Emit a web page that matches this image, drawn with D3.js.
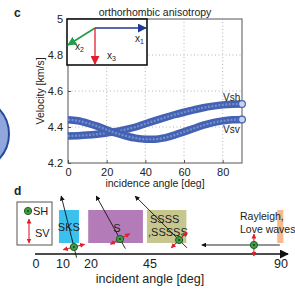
<!DOCTYPE html>
<html>
<head>
<meta charset="utf-8">
<script src="https://cdn.jsdelivr.net/npm/d3@7/dist/d3.min.js"></script>
<style>
  body { margin: 0; background: #fff; }
  text { font-family: "Liberation Sans", Arial, sans-serif; fill: #222; }
</style>
</head>
<body>
<svg id="fig" width="295" height="289"></svg>
<script>
// ---- panel c data ----
const angles = [0, 5, 10, 15, 20, 25, 30, 35, 40, 45, 50, 55, 60, 65, 70, 75, 80, 85, 90];
const vsh = [4.350, 4.352, 4.355, 4.360, 4.367, 4.375, 4.387, 4.400, 4.418, 4.435, 4.452, 4.468, 4.482, 4.495, 4.507, 4.516, 4.523, 4.527, 4.528];
const vsv = [4.440, 4.435, 4.422, 4.405, 4.385, 4.365, 4.350, 4.338, 4.332, 4.332, 4.340, 4.355, 4.373, 4.392, 4.410, 4.424, 4.434, 4.440, 4.442];
const yTicks = [4.2, 4.4, 4.6, 4.8, 5];
const xTicks = [0, 20, 40, 60, 80];

// ---- panel d data ----
const dTicks = [0, 10, 20, 45, 90];
const phaseNames = ["SKS", "S", "SSSS,SSSSS", "surface"];
const phaseFrom = [8.5, 19, 43.7, 88.7];
const phaseTo = [15.7, 42, 57.5, 90.8];
const rayIncidence = [14, 29, 45];   // deg from vertical
const rayAt = [13.9, 32.3, 55];      // where the marker sits on the angle axis
const surfaceAt = 80.7;
const surfaceFrom = 89.6, surfaceTo = 62.8;

const svg = d3.select("#fig");
const defs = svg.append("defs");

function arrowMarker(id, color, size) {
  defs.append("marker")
    .attr("id", id)
    .attr("viewBox", "0 0 10 10")
    .attr("refX", 9).attr("refY", 5)
    .attr("markerWidth", size).attr("markerHeight", size)
    .attr("markerUnits", "userSpaceOnUse")
    .attr("orient", "auto-start-reverse")
    .append("path")
    .attr("d", "M0,0 L10,5 L0,10 z")
    .attr("fill", color);
}
arrowMarker("aBlue", "#1f3a93", 9);
arrowMarker("aGreen", "#1e9e48", 9);
arrowMarker("aRed", "#e3202a", 9);
arrowMarker("aBlack", "#111", 5);
arrowMarker("aRedS", "#e3202a", 5);
arrowMarker("aAxis", "#111", 9);

// left edge circle (part of a neighbouring panel)
svg.append("circle")
  .attr("cx", -27.5).attr("cy", 134).attr("r", 36.5)
  .attr("fill", "#8fa7dd").attr("stroke", "#27489a").attr("stroke-width", 2);

// ================= panel c =================
const x = d3.scaleLinear().domain([0, 90]).range([68, 242]);
const y = d3.scaleLinear().domain([4.2, 5]).range([163, 19]);

svg.append("text").attr("x", 14).attr("y", 17)
  .attr("font-size", 12).attr("font-weight", "bold").text("c");

// grid
const grid = svg.append("g").attr("stroke", "#b5b5b5").attr("stroke-dasharray", "1,2.5");
grid.selectAll("line.gx").data(xTicks.filter(d => d > 0)).enter().append("line")
  .attr("x1", d => x(d)).attr("x2", d => x(d)).attr("y1", y(4.2)).attr("y2", y(5));
grid.selectAll("line.gy").data(yTicks.filter(d => d > 4.2 && d < 5)).enter().append("line")
  .attr("y1", d => y(d)).attr("y2", d => y(d)).attr("x1", x(0)).attr("x2", x(90));

// axes
svg.append("g")
  .attr("transform", `translate(0,${y(4.2)})`)
  .call(d3.axisBottom(x).tickValues(xTicks).tickSize(-3).tickPadding(5).tickFormat(d3.format("d")))
  .call(g => g.select(".domain").remove())
  .call(g => g.selectAll("text").attr("font-size", 11).attr("fill", "#222"));

svg.append("g")
  .attr("transform", `translate(${x(0)},0)`)
  .call(d3.axisLeft(y).tickValues(yTicks).tickSize(-3).tickPadding(5).tickFormat(d => d === 5 ? "5" : d3.format(".1f")(d)))
  .call(g => g.select(".domain").remove())
  .call(g => g.selectAll("text").attr("font-size", 11).attr("fill", "#222"));

svg.selectAll(".tick line").attr("stroke", "#555");

svg.append("rect")
  .attr("x", x(0)).attr("y", y(5))
  .attr("width", x(90) - x(0)).attr("height", y(4.2) - y(5))
  .attr("fill", "none").attr("stroke", "#555").attr("stroke-width", 1);

// curves
const line = d3.line().x(d => x(d[0])).y(d => y(d[1])).curve(d3.curveMonotoneX);
[vsh, vsv].forEach(vals => {
  const pts = angles.map((a, i) => [a, vals[i]]);
  svg.append("path").attr("d", line(pts))
    .attr("fill", "none").attr("stroke", "#4462b4").attr("stroke-width", 7.5);
  svg.append("path").attr("d", line(pts))
    .attr("fill", "none").attr("stroke", "#8c9fd6").attr("stroke-width", 2.2)
    .attr("stroke-dasharray", "2,1.5").attr("opacity", 0.7);
  svg.append("circle")
    .attr("cx", x(angles[angles.length - 1])).attr("cy", y(vals[vals.length - 1])).attr("r", 3.4)
    .attr("fill", "#c9d3ee").attr("stroke", "#4462b4").attr("stroke-width", 1.2);
});

svg.append("text").attr("x", 223).attr("y", 101).attr("font-size", 10).text("Vsh");
svg.append("text").attr("x", 223).attr("y", 133).attr("font-size", 10).text("Vsv");

svg.append("text").attr("x", 155).attr("y", 16).attr("text-anchor", "middle")
  .attr("font-size", 10.5).text("orthorhombic anisotropy");
svg.append("text").attr("x", 155).attr("y", 187).attr("text-anchor", "middle")
  .attr("font-size", 10.5).text("incidence angle [deg]");
svg.append("text")
  .attr("transform", `translate(44,${(y(4.2) + y(5)) / 2}) rotate(-90)`)
  .attr("text-anchor", "middle").attr("font-size", 10.5).text("Velocity [km/s]");

// inset with coordinate axes
const inset = svg.append("g").attr("transform", "translate(67,19)");
inset.append("rect").attr("width", 80).attr("height", 46)
  .attr("fill", "#fff").attr("stroke", "#111").attr("stroke-width", 1.6);
inset.append("line").attr("x1", 28).attr("y1", 9).attr("x2", 79).attr("y2", 9)
  .attr("stroke", "#1f3a93").attr("stroke-width", 1.3).attr("marker-end", "url(#aBlue)");
inset.append("line").attr("x1", 28).attr("y1", 9).attr("x2", 1).attr("y2", 26)
  .attr("stroke", "#1e9e48").attr("stroke-width", 1.6).attr("marker-end", "url(#aGreen)");
inset.append("line").attr("x1", 28).attr("y1", 9).attr("x2", 28).attr("y2", 45)
  .attr("stroke", "#e3202a").attr("stroke-width", 1.3).attr("marker-end", "url(#aRed)");
function axLabel(tx, ty, sub) {
  const t = inset.append("text").attr("x", tx).attr("y", ty).attr("font-size", 10);
  t.append("tspan").text("x");
  t.append("tspan").attr("font-size", 7).attr("dy", 2).text(sub);
}
axLabel(68, 23, "1");
axLabel(8, 31, "2");
axLabel(40, 40, "3");

// ================= panel d =================
const axisY = 254;
const xd = d3.scaleLinear().domain(dTicks).range([36, 63, 91, 150, 281]);

svg.append("text").attr("x", 14).attr("y", 195)
  .attr("font-size", 12).attr("font-weight", "bold").text("d");

const phaseColors = ["#3bc1ee", "#b47bb9", "#c8c68f", "#f7b98f"];
svg.selectAll("rect.phase").data(phaseNames).enter().append("rect")
  .attr("class", "phase")
  .attr("x", (d, i) => xd(phaseFrom[i]))
  .attr("width", (d, i) => xd(phaseTo[i]) - xd(phaseFrom[i]))
  .attr("y", 210).attr("height", 33)
  .attr("fill", (d, i) => phaseColors[i]);

svg.append("text").attr("x", xd((phaseFrom[0] + phaseTo[0]) / 2)).attr("y", 231)
  .attr("text-anchor", "middle").attr("font-size", 11).text("SKS");
svg.append("text").attr("x", 117).attr("y", 232)
  .attr("text-anchor", "middle").attr("font-size", 11).text("S");
svg.append("text").attr("x", 150).attr("y", 223).attr("font-size", 11).text("SSSS");
svg.append("text").attr("x", 148).attr("y", 236).attr("font-size", 11).text(",SSSSS");

// axis line
svg.append("line").attr("x1", 35).attr("x2", 288).attr("y1", axisY).attr("y2", axisY)
  .attr("stroke", "#111").attr("stroke-width", 1.3).attr("marker-end", "url(#aAxis)");
svg.selectAll("text.dtick").data(dTicks).enter().append("text")
  .attr("class", "dtick")
  .attr("x", d => xd(d)).attr("y", 268)
  .attr("text-anchor", "middle").attr("font-size", 12.5).text(d => d);
svg.append("text").attr("x", 150).attr("y", 283).attr("text-anchor", "middle")
  .attr("font-size", 12.5).text("incident angle [deg]");

function shMarker(cx, cy) {
  svg.append("circle").attr("cx", cx).attr("cy", cy).attr("r", 3.6)
    .attr("fill", "#3f9f45").attr("stroke", "#1f5a24").attr("stroke-width", 1);
  svg.append("circle").attr("cx", cx).attr("cy", cy).attr("r", 1)
    .attr("fill", "#1f3a22");
}
function svArrow(cx, cy, ux, uy, half) {
  svg.append("line")
    .attr("x1", cx - ux * half).attr("y1", cy - uy * half)
    .attr("x2", cx + ux * half).attr("y2", cy + uy * half)
    .attr("stroke", "#e3202a").attr("stroke-width", 1.1)
    .attr("marker-start", "url(#aRedS)").attr("marker-end", "url(#aRedS)");
}

// rays
const rayLift = [7, 15, 14];
rayIncidence.forEach((inc, i) => {
  const a = inc * Math.PI / 180;
  const sx = Math.sin(a), cy = Math.cos(a);
  const mx = xd(rayAt[i]), my = axisY - rayLift[i];
  const up = (my - 196) / cy;
  svg.append("line")
    .attr("x1", mx + sx * 11).attr("y1", my + cy * 11)
    .attr("x2", mx - sx * up).attr("y2", my - cy * up)
    .attr("stroke", "#111").attr("stroke-width", 0.9).attr("marker-end", "url(#aBlack)");
  svArrow(mx, my, cy, -sx, 11);
  shMarker(mx, my);
});

// surface waves
svg.append("line").attr("x1", xd(surfaceFrom)).attr("x2", xd(surfaceTo)).attr("y1", 245).attr("y2", 245)
  .attr("stroke", "#111").attr("stroke-width", 0.9).attr("marker-end", "url(#aBlack)");
svArrow(xd(surfaceAt), 245, 0, 1, 11);
shMarker(xd(surfaceAt), 245);
svg.append("text").attr("x", 240).attr("y", 220).attr("font-size", 10.5).text("Rayleigh,");
svg.append("text").attr("x", 240).attr("y", 233).attr("font-size", 10.5).text("Love waves");

// legend
svg.append("rect").attr("x", 17).attr("y", 202).attr("width", 35).attr("height", 43)
  .attr("fill", "none").attr("stroke", "#555").attr("stroke-width", 1);
shMarker(28, 211);
svg.append("text").attr("x", 33).attr("y", 215).attr("font-size", 11).text("SH");
svArrow(29, 231, 0, 1, 12);
svg.append("text").attr("x", 35).attr("y", 237).attr("font-size", 11).text("SV");
</script>
</body>
</html>
